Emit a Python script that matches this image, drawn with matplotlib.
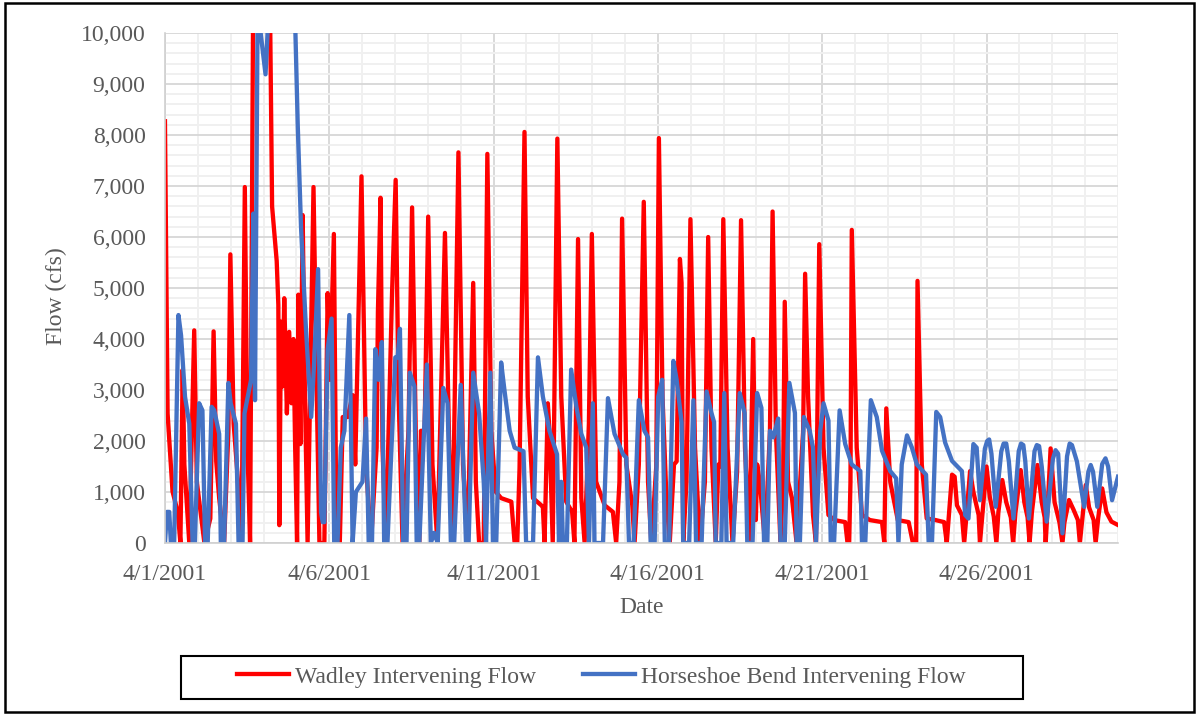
import matplotlib.pyplot as plt
from matplotlib.patches import Rectangle
from matplotlib.ticker import FuncFormatter, MultipleLocator

# days since 4/1/2001 00:00 and flow (cfs), read at the turning points of each trace
wadley_day = [0, 0.08, 0.23, 0.39, 0.47, 0.54, 0.59, 0.74, 0.89, 0.97, 1.20, 1.38, 1.48, 1.56, 1.65, 1.80,
              1.93, 1.99, 2.09, 2.26, 2.33, 2.43, 2.51, 2.59, 2.70, 3.00, 3.20, 3.26, 3.40, 3.45, 3.48, 3.53,
              3.58, 3.63, 3.71, 3.78, 3.85, 3.91, 3.96, 4.02, 4.06, 4.12, 4.19, 4.26, 4.34, 4.52, 4.63, 4.70,
              4.85, 4.95, 5.02, 5.14, 5.22, 5.32, 5.41, 5.56, 5.71, 5.79, 5.98, 6.12, 6.27, 6.44, 6.48, 6.56,
              6.62, 6.72, 6.91, 7.02, 7.11, 7.23, 7.41, 7.52, 7.64, 7.74, 7.79, 7.90, 8.01, 8.14, 8.29, 8.52,
              8.65, 8.75, 8.93, 9.07, 9.21, 9.38, 9.46, 9.56, 9.70, 9.81, 9.93, 10.06, 10.23, 10.54, 10.64,
              10.72, 10.79, 10.94, 11.04, 11.20, 11.45, 11.50, 11.55, 11.65, 11.70, 11.80, 11.94, 12.06,
              12.21, 12.39, 12.46, 12.57, 12.67, 12.77, 12.90, 12.99, 13.12, 13.38, 13.63, 13.73, 13.83,
              13.91, 14.04, 14.22, 14.29, 14.42, 14.57, 14.70, 14.80, 14.95, 15.03, 15.14, 15.26, 15.36,
              15.49, 15.57, 15.67, 15.72, 15.77, 15.87, 15.99, 16.13, 16.28, 16.43, 16.53, 16.63, 16.76,
              16.84, 16.90, 16.99, 17.12, 17.27, 17.41, 17.53, 17.65, 17.78, 17.90, 17.98, 18.02, 18.10,
              18.26, 18.41, 18.49, 18.59, 18.73, 18.81, 18.86, 18.96, 19.08, 19.22, 19.42, 19.48, 19.57,
              19.72, 19.81, 19.91, 20.04, 20.19, 20.37, 20.70, 20.77, 20.82, 20.86, 20.90, 21.05, 21.21,
              21.45, 21.82, 21.89, 21.95, 22.07, 22.30, 22.63, 22.76, 22.86, 22.90, 23.03, 23.18, 23.45,
              23.71, 23.79, 23.95, 24.03, 24.10, 24.25, 24.32, 24.50, 24.60, 24.76, 24.80, 24.88, 25.00,
              25.10, 25.22, 25.30, 25.36, 25.48, 25.60, 25.74, 25.81, 25.88, 26.04, 26.15, 26.25, 26.31,
              26.38, 26.55, 26.68, 26.77, 26.80, 26.86, 26.95, 27.07, 27.22, 27.31, 27.37, 27.51, 27.65,
              27.78, 27.84, 27.92, 28.02, 28.12, 28.26, 28.32, 28.40, 28.52, 28.65, 28.80, 29.00]
wadley_flow = [8270, 2540, 1010, 610, 0, 3400, 1540, 0, 4170, 1200, 0, 480, 4150, 1600, 880, 0,
               2200, 5660, 2340, 880, 0, 6980, 1870, 0, 12500, 14000, 10300, 6600, 5530, 4670, 350, 4340,
               3070, 4800, 2540, 4140, 2740, 4000, 1940, 0, 4870, 1940, 6430, 2870, 0, 6980, 2540, 0,
               0, 4900, 3200, 6060, 0, 0, 2470, 2470, 2900, 1540, 7190, 1540, 0, 1870, 4530, 6770,
               1870, 0, 4900, 7120, 2870, 0, 2200, 6580, 1870, 0, 2200, 2200, 6400, 1540, 0, 6080,
               1870, 0, 7660, 1540, 0, 5100, 1200, 0, 0, 7630, 2200, 1010, 880, 810, 0,
               0, 1470, 8060, 2870, 880, 740, 700, 0, 2740, 2200, 0, 7930, 2870,
               810, 610, 0, 5960, 880, 0, 2340, 6060, 1200, 740, 610, 0, 1200,
               6360, 1540, 740, 0, 1540, 6690, 1200, 0, 1500, 7940, 2870, 880, 0,
               1540, 1600, 5570, 5100, 0, 1200, 6350, 1870, 0, 1200, 6000, 1870, 0,
               1540, 1500, 6350, 1870, 0, 1400, 6330, 1870, 0, 4000, 450, 1540, 1200,
               0, 2200, 6500, 2200, 0, 1200, 4730, 1200, 880, 0, 2200, 5280, 2870,
               550, 0, 5860, 1870, 550, 450, 410, 0, 0, 1200, 6140, 1870, 550,
               450, 410, 0, 2640, 1200, 450, 410, 0, 0, 5140, 1540, 480, 450,
               410, 0, 1340, 1300, 740, 550, 0, 1410, 1000, 550, 0, 600, 1500,
               900, 520, 0, 600, 1235, 800, 500, 0, 600, 1430, 800, 500, 0,
               600, 1530, 800, 500, 0, 700, 1855, 800, 400, 0, 400, 843, 650,
               450, 0, 500, 1137, 700, 450, 0, 500, 1070, 600, 420, 353]

hb_day = [0, 0.06, 0.13, 0.18, 0.28, 0.41, 0.49, 0.61, 0.74, 0.84, 0.91, 1.04, 1.14, 1.22, 1.30, 1.42,
          1.50, 1.65, 1.70, 1.80, 1.93, 2.00, 2.16, 2.24, 2.36, 2.42, 2.62, 2.69, 2.74, 2.82, 3.06, 3.16,
          3.50, 3.97, 4.04, 4.14, 4.29, 4.45, 4.54, 4.66, 4.75, 4.80, 4.85, 4.95, 5.07, 5.15, 5.25, 5.35,
          5.46, 5.61, 5.71, 5.81, 6.01, 6.12, 6.20, 6.30, 6.40, 6.50, 6.60, 6.67, 6.77, 7.01, 7.08, 7.15,
          7.25, 7.35, 7.45, 7.59, 7.66, 7.74, 7.97, 8.09, 8.19, 8.30, 8.47, 8.60, 8.70, 8.80, 9.00, 9.16,
          9.24, 9.38, 9.56, 9.70, 9.77, 9.90, 9.98, 10.08, 10.23, 10.33, 10.49, 10.64, 10.91, 10.99,
          11.20, 11.35, 11.50, 11.70, 11.93, 11.99, 12.06, 12.11, 12.23, 12.36, 12.52, 12.67, 12.82,
          12.90, 13.02, 13.07, 13.33, 13.48, 13.68, 13.94, 14.04, 14.12, 14.26, 14.42, 14.59, 14.70,
          14.78, 14.90, 15.01, 15.13, 15.21, 15.34, 15.47, 15.57, 15.72, 15.77, 15.95, 16.08, 16.16,
          16.33, 16.48, 16.63, 16.71, 16.76, 16.93, 17.02, 17.09, 17.29, 17.49, 17.64, 17.72, 17.88,
          18.02, 18.15, 18.23, 18.33, 18.41, 18.51, 18.66, 18.73, 18.86, 19.00, 19.17, 19.22, 19.32,
          19.44, 19.62, 19.72, 19.81, 19.94, 20.04, 20.19, 20.26, 20.36, 20.53, 20.70, 20.90, 21.16,
          21.21, 21.31, 21.48, 21.66, 21.82, 22.07, 22.25, 22.32, 22.42, 22.58, 22.73, 22.88, 23.16,
          23.24, 23.34, 23.47, 23.59, 23.74, 23.95, 24.25, 24.35, 24.45, 24.60, 24.70, 24.80, 24.95,
          25.02, 25.08, 25.15, 25.28, 25.45, 25.52, 25.60, 25.68, 25.82, 25.98, 26.05, 26.12, 26.18,
          26.29, 26.46, 26.53, 26.60, 26.68, 26.83, 27.02, 27.10, 27.18, 27.31, 27.45, 27.53, 27.60,
          27.75, 27.97, 28.10, 28.17, 28.24, 28.37, 28.52, 28.62, 28.70, 28.82, 29.00]
hb_flow = [0, 610, 610, 0, 0, 4470, 4070, 2870, 2340, 0, 0, 2740, 2600, 0, 0, 2670,
           2600, 2140, 0, 0, 3140, 2740, 2340, 0, 0, 2540, 3200, 6460, 2800, 10500, 9190, 10500,
           13000, 10000, 8200, 6200, 4200, 2470, 3540, 5370, 600, 410, 410, 3800, 4400, 0, 0, 1870,
           2200, 4470, 0, 1000, 1200, 2440, 0, 0, 3800, 3200, 3940, 0, 0, 3640, 3640, 4200,
           0, 0, 3340, 3070, 0, 0, 3500, 0, 200, 0, 3040, 2740, 0, 0, 3100, 0,
           0, 3340, 2540, 1200, 0, 3340, 0, 0, 3540, 3000, 2200, 1870, 1800, 0,
           0, 3640, 2870, 2200, 1740, 0, 1200, 0, 0, 3400, 2670, 2140, 1870,
           0, 2740, 0, 0, 2840, 2140, 1740, 1670, 0, 0, 2800, 2200, 2070,
           0, 0, 2870, 3200, 0, 0, 3570, 3200, 2370, 0, 0, 2800, 0,
           0, 2970, 2550, 2370, 0, 0, 2940, 0, 0, 2940, 2550, 0, 0,
           2940, 2650, 0, 0, 2200, 2070, 2440, 0, 0, 3140, 2550, 0, 0,
           2470, 2200, 1870, 0, 2200, 2740, 2400, 0, 0, 2600, 1940, 1540, 1410,
           0, 0, 2800, 2470, 1810, 1410, 1270, 0, 1540, 2110, 1870, 1540, 1340,
           0, 0, 2570, 2470, 1970, 1610, 1410, 550, 480, 1940, 1870, 840, 1850,
           2000, 2030, 1750, 710, 1800, 1950, 1950, 1600, 480, 1800, 1950, 1920, 1600,
           480, 1800, 1920, 1900, 1500, 420, 1650, 1820, 1750, 190, 1700, 1950, 1920,
           1600, 710, 1400, 1530, 1400, 710, 1550, 1660, 1500, 840, 1300]

tick_days = [0, 5, 10, 15, 20, 25]
tick_labels = ['4/1/2001', '4/6/2001', '4/11/2001', '4/16/2001', '4/21/2001', '4/26/2001']

plt.rcParams['font.family'] = ['Liberation Serif', 'DejaVu Serif']
txt = '#595959'

fig = plt.figure(figsize=(11.98, 7.16), dpi=100)
ax = fig.add_axes([0.1377, 0.2416, 0.7955, 0.7123])

ax.plot(wadley_day, wadley_flow, color='#FF0000', lw=3.1, solid_joinstyle='round',
        label='Wadley Intervening Flow')
ax.plot(hb_day, hb_flow, color='#4472C4', lw=3.1, solid_joinstyle='round',
        label='Horseshoe Bend Intervening Flow')

ax.set_xlim(0, 29)
ax.set_ylim(0, 10000)
ax.set_xticks(tick_days)
ax.set_xticklabels(tick_labels)
ax.xaxis.set_minor_locator(MultipleLocator(1))
ax.yaxis.set_major_locator(MultipleLocator(1000))
ax.yaxis.set_minor_locator(MultipleLocator(200))
ax.yaxis.set_major_formatter(FuncFormatter(lambda v, p: f'{int(v):,}'))

ax.grid(which='major', color='#D9D9D9', lw=1.4)
ax.grid(which='minor', color='#F0F0F0', lw=1.4)
ax.set_axisbelow(True)
ax.tick_params(which='both', length=0, labelsize=17, colors=txt)
ax.tick_params(axis='x', pad=15)
ax.tick_params(axis='y', pad=14)
for s in ['top', 'right']:
    ax.spines[s].set_visible(False)
for s in ['left', 'bottom']:
    ax.spines[s].set_color('#D0D0D0')
    ax.spines[s].set_linewidth(1.2)

ax.set_xlabel('Date', fontsize=17, color=txt, va='center')
ax.xaxis.set_label_coords(0.5, -0.1255)
ax.set_ylabel('Flow (cfs)', fontsize=17, color=txt, va='center')
ax.yaxis.set_label_coords(-0.114, 0.484)

leg = fig.legend(loc='center', bbox_to_anchor=(0.502, 0.0545), ncol=2, fontsize=17,
                 frameon=False, handlelength=2.2, handletextpad=0.25,
                 columnspacing=2.0, labelcolor=txt)

fig.patches.append(Rectangle((0.1511, 0.0237), 0.7028, 0.0601, transform=fig.transFigure,
                             fill=False, edgecolor='black', lw=1.5))
fig.patches.append(Rectangle((0.004, 0.006), 0.993, 0.99, transform=fig.transFigure,
                             fill=False, edgecolor='black', lw=1.8))

fig.savefig('out.png', dpi=100)
